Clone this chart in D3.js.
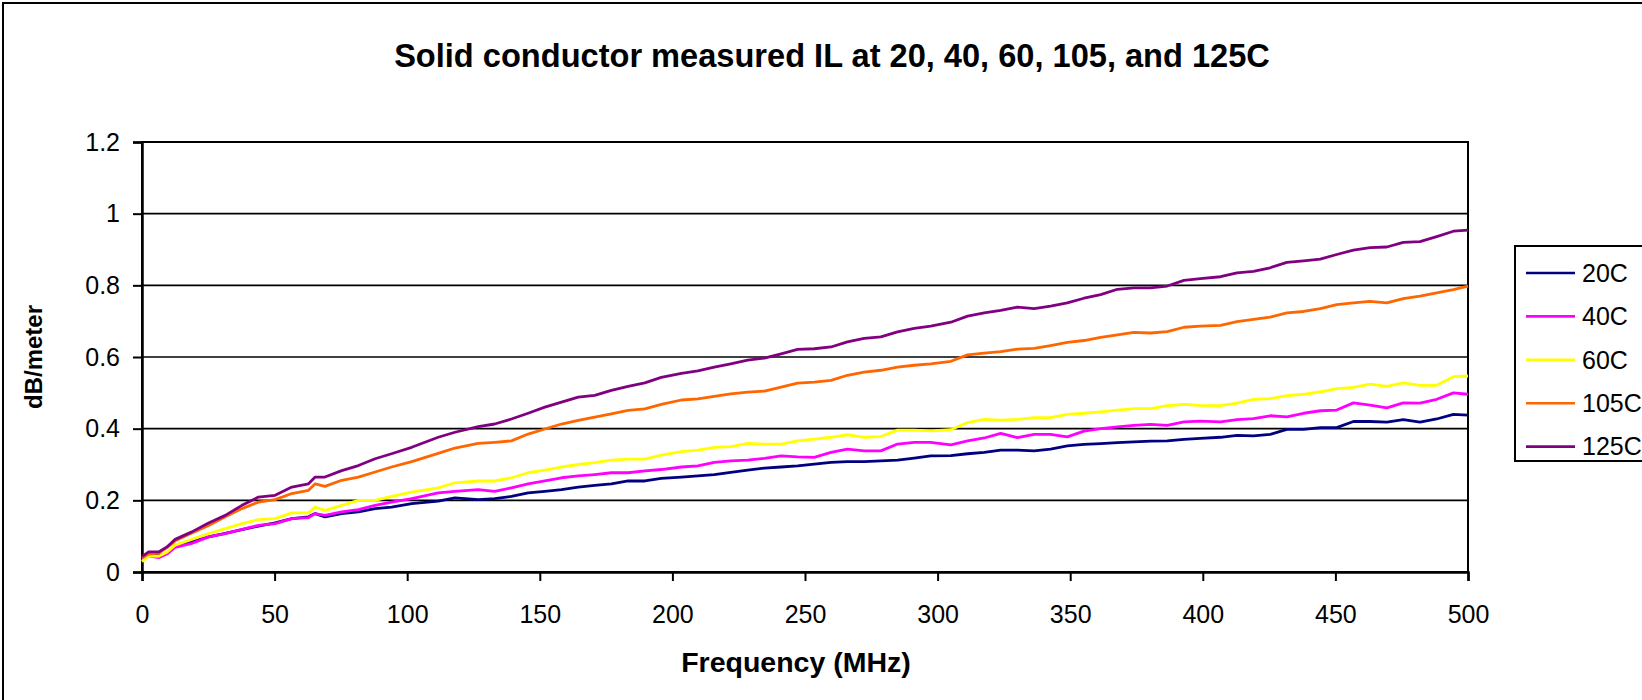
<!DOCTYPE html>
<html>
<head>
<meta charset="utf-8">
<script src="https://cdn.jsdelivr.net/npm/d3@7"></script>
<style>
  html, body { margin: 0; padding: 0; background: #fff; }
  svg { display: block; }
  text { font-family: "Liberation Sans", Arial, sans-serif; fill: #000; }
</style>
</head>
<body>
<svg id="chart" width="1642" height="700"></svg>
<script>
// ---- data ----
const titleText = "Solid conductor measured IL at 20, 40, 60, 105, and 125C";
const xLabel = "Frequency (MHz)";
const yLabel = "dB/meter";
const xTicks = [0, 50, 100, 150, 200, 250, 300, 350, 400, 450, 500];
const yTicks = [0, 0.2, 0.4, 0.6, 0.8, 1, 1.2];
const seriesNames = ["20C", "40C", "60C", "105C", "125C"];
const seriesColors = ["#000080", "#FF00FF", "#FFFF00", "#FF6600", "#800080"];

const freq = [0, 2.5, 6.3, 9.4, 12.5, 18.8, 25.1, 31.4, 37.7, 43.9, 50.2, 56.5, 62.8, 65.3, 69, 75.3, 81.6, 87.9, 94.1, 101.7,
  111.7, 118, 126.8, 133, 139.3, 145.6, 151.9, 158.2, 164.5, 170.7, 177, 183.3, 189.6, 195.8, 203.4,
  209.6, 215.8, 222, 228.4, 234.7, 241, 247.2, 253.5, 259.8, 266, 272.3, 278.6, 284.9, 291.2, 297.4, 305,
  311.3, 317.6, 323.8, 330.1, 336.4, 342.6, 348.9, 355.2, 361.5, 367.8, 374, 380.3, 386.6, 392.9, 399.1, 406.7,
  412.9, 419.1, 425.4, 431.7, 438, 444.3, 450.5, 456.8, 463.1, 469.4, 475.6, 481.9, 488.2, 494.5, 500];

const il20 = [0.039,0.050,0.046,0.052,0.072,0.085,0.098,0.108,0.118,0.128,0.137,0.149,0.154,0.163,0.154,0.163,0.168,0.177,0.181,0.191,
  0.198,0.207,0.202,0.205,0.211,0.221,0.225,0.230,0.237,0.242,0.246,0.254,0.254,0.261,0.265,
  0.268,0.272,0.278,0.284,0.290,0.293,0.296,0.301,0.306,0.308,0.308,0.310,0.312,0.318,0.324,0.325,
  0.330,0.334,0.340,0.340,0.338,0.343,0.352,0.356,0.358,0.361,0.363,0.365,0.366,0.370,0.373,0.376,
  0.381,0.380,0.384,0.398,0.398,0.403,0.403,0.420,0.420,0.418,0.425,0.418,0.427,0.440,0.438];

const il40 = [0.033,0.045,0.040,0.050,0.069,0.080,0.098,0.107,0.119,0.130,0.135,0.149,0.152,0.163,0.158,0.168,0.174,0.186,0.195,0.205,
  0.221,0.225,0.230,0.225,0.235,0.246,0.254,0.263,0.268,0.272,0.277,0.277,0.282,0.286,0.293,
  0.296,0.306,0.310,0.312,0.317,0.324,0.321,0.320,0.334,0.343,0.338,0.338,0.357,0.362,0.362,0.355,
  0.366,0.374,0.387,0.375,0.384,0.384,0.377,0.393,0.400,0.405,0.409,0.412,0.409,0.419,0.421,0.419,
  0.425,0.428,0.436,0.433,0.443,0.450,0.452,0.472,0.466,0.458,0.472,0.471,0.482,0.500,0.496];

const il60 = [0.029,0.045,0.044,0.055,0.075,0.091,0.107,0.121,0.135,0.146,0.149,0.165,0.165,0.181,0.172,0.186,0.200,0.200,0.211,0.223,
  0.235,0.249,0.254,0.254,0.263,0.277,0.284,0.293,0.300,0.305,0.312,0.315,0.315,0.326,0.336,
  0.340,0.348,0.350,0.359,0.357,0.357,0.366,0.371,0.376,0.383,0.376,0.378,0.396,0.396,0.394,0.397,
  0.417,0.426,0.424,0.426,0.431,0.431,0.440,0.443,0.447,0.452,0.456,0.456,0.464,0.468,0.465,0.464,
  0.471,0.482,0.484,0.492,0.496,0.503,0.512,0.515,0.524,0.518,0.528,0.521,0.521,0.545,0.547];

const il105 = [0.039,0.050,0.053,0.068,0.087,0.109,0.130,0.154,0.177,0.195,0.202,0.219,0.228,0.246,0.239,0.256,0.265,0.279,0.293,0.308,
  0.331,0.346,0.359,0.362,0.366,0.385,0.399,0.413,0.423,0.432,0.441,0.451,0.455,0.468,0.480,
  0.483,0.490,0.497,0.502,0.505,0.516,0.527,0.530,0.535,0.549,0.558,0.563,0.572,0.577,0.581,0.588,
  0.606,0.611,0.615,0.622,0.624,0.632,0.641,0.646,0.655,0.662,0.669,0.667,0.671,0.683,0.686,0.688,
  0.699,0.705,0.711,0.723,0.727,0.735,0.746,0.751,0.755,0.751,0.763,0.770,0.779,0.788,0.798];

const il125 = [0.043,0.056,0.056,0.070,0.091,0.112,0.137,0.158,0.186,0.209,0.214,0.237,0.246,0.265,0.265,0.283,0.297,0.316,0.330,0.348,
  0.376,0.390,0.406,0.413,0.427,0.443,0.460,0.474,0.488,0.493,0.507,0.518,0.528,0.543,0.554,
  0.561,0.572,0.581,0.591,0.597,0.609,0.621,0.623,0.628,0.642,0.652,0.656,0.670,0.680,0.686,0.697,
  0.714,0.723,0.730,0.739,0.735,0.742,0.751,0.764,0.774,0.789,0.793,0.793,0.798,0.814,0.819,0.824,
  0.835,0.839,0.849,0.864,0.868,0.873,0.886,0.898,0.905,0.907,0.920,0.922,0.936,0.951,0.954];

const seriesValues = [il20, il40, il60, il105, il125];

// ---- layout ----
const svg = d3.select("#chart");
const plot = { left: 142, right: 1468, top: 142, bottom: 572 };

const x = d3.scaleLinear().domain([0, 500]).range([plot.left, plot.right]);
const y = d3.scaleLinear().domain([0, 1.2]).range([plot.bottom, plot.top]);

// outer chart frame (only left/top visible)
svg.append("rect")
  .attr("x", 3).attr("y", 3).attr("width", 1700).attr("height", 760)
  .attr("fill", "#fff").attr("stroke", "#000").attr("stroke-width", 2);

// title
svg.append("text")
  .attr("x", 832).attr("y", 67)
  .attr("text-anchor", "middle")
  .style("font-size", "32.6px").style("font-weight", "bold")
  .text(titleText);

// gridlines
svg.append("g")
  .selectAll("line")
  .data(yTicks.filter(d => d > 0))
  .join("line")
  .attr("x1", plot.left).attr("x2", plot.right)
  .attr("y1", d => y(d)).attr("y2", d => y(d))
  .attr("stroke", "#000").attr("stroke-width", 1.6);

// plot frame
svg.append("rect")
  .attr("x", plot.left).attr("y", plot.top)
  .attr("width", plot.right - plot.left).attr("height", plot.bottom - plot.top)
  .attr("fill", "none").attr("stroke", "#000").attr("stroke-width", 2);

// axes
const yAxis = d3.axisLeft(y).tickValues(yTicks).tickSize(9).tickPadding(13)
  .tickFormat(d => d3.format("~g")(d));
const gy = svg.append("g").attr("transform", `translate(${plot.left},0)`).call(yAxis);
gy.select(".domain").attr("stroke", "#000").attr("stroke-width", 2.5);
gy.selectAll(".tick line").attr("stroke", "#000").attr("stroke-width", 2);
gy.selectAll(".tick text").style("font-size", "25px").attr("fill", "#000")
  .attr("font-family", "Liberation Sans, Arial, sans-serif");

const xAxis = d3.axisBottom(x).tickValues(xTicks).tickSize(9).tickPadding(24)
  .tickFormat(d3.format("d"));
const gx = svg.append("g").attr("transform", `translate(0,${plot.bottom})`).call(xAxis);
gx.select(".domain").attr("stroke", "#000").attr("stroke-width", 2.5);
gx.selectAll(".tick line").attr("stroke", "#000").attr("stroke-width", 2);
gx.selectAll(".tick text").style("font-size", "25px").attr("fill", "#000")
  .attr("font-family", "Liberation Sans, Arial, sans-serif");

// axis labels
svg.append("text")
  .attr("x", 796).attr("y", 672)
  .attr("text-anchor", "middle")
  .style("font-size", "28.5px").style("font-weight", "bold")
  .text(xLabel);

svg.append("text")
  .attr("transform", "translate(42,357) rotate(-90)")
  .attr("text-anchor", "middle")
  .style("font-size", "24px").style("font-weight", "bold")
  .text(yLabel);

// series lines
const line = d3.line()
  .x((d, i) => x(freq[i]))
  .y(d => y(d));

svg.append("g")
  .selectAll("path")
  .data(seriesValues)
  .join("path")
  .attr("d", d => line(d))
  .attr("fill", "none")
  .attr("stroke", (d, i) => seriesColors[i])
  .attr("stroke-width", 2.8)
  .attr("stroke-linejoin", "round");

// legend
const legend = svg.append("g");
legend.append("rect")
  .attr("x", 1515).attr("y", 246).attr("width", 200).attr("height", 215)
  .attr("fill", "#fff").attr("stroke", "#000").attr("stroke-width", 2);

const lg = legend.selectAll("g.item")
  .data(seriesNames)
  .join("g")
  .attr("class", "item")
  .attr("transform", (d, i) => `translate(0,${273 + i * 43.4})`);
lg.append("line")
  .attr("x1", 1526).attr("x2", 1575).attr("y1", 0).attr("y2", 0)
  .attr("stroke", (d, i) => seriesColors[i]).attr("stroke-width", 2.6);
lg.append("text")
  .attr("x", 1582).attr("y", 0).attr("dy", "0.35em")
  .style("font-size", "25px")
  .text(d => d);
</script>
</body>
</html>
